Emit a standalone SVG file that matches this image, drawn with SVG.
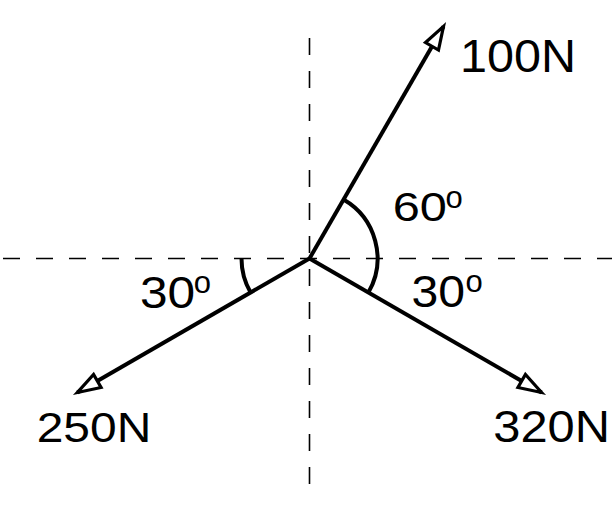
<svg xmlns="http://www.w3.org/2000/svg" width="615" height="505" viewBox="0 0 615 505">
<style>
.dash{stroke:#000;stroke-width:1.6;stroke-dasharray:17 16;fill:none}
.force{stroke:#000;stroke-width:4;fill:none;marker-end:url(#head)}
.arc{stroke:#000;stroke-width:4;fill:none}
.lbl{font-family:"Liberation Sans",Arial,Helvetica,sans-serif;fill:#000}
</style>
<defs>
<marker id="head" markerUnits="userSpaceOnUse" viewBox="0 0 30 20" refX="26" refY="10" markerWidth="30" markerHeight="20" orient="auto" overflow="visible">
<path d="M26,10 L3,2.5 L3,17.5 Z" fill="#fff" stroke="#000" stroke-width="3.2" stroke-linejoin="miter"/>
</marker>
</defs>
<g id="axes">
<line class="dash" x1="3" y1="258.5" x2="612" y2="258.5"/>
<line class="dash" x1="309.5" y1="38" x2="309.5" y2="500"/>
</g>
<g id="connectors">
<line id="f100" class="force" x1="309.5" y1="258.5" x2="443.5" y2="26.4"/>
<line id="f250" class="force" x1="309.5" y1="258.5" x2="77.4" y2="392.5"/>
<line id="f320" class="force" x1="309.5" y1="258.5" x2="541.6" y2="392.5"/>
</g>
<g id="angles">
<path class="arc" d="M343.5,199.6 A68,68 0 0 1 368.4,292.5"/>
<path class="arc" d="M241.5,258.5 A68,68 0 0 0 250.6,292.5"/>
</g>
<g id="label-100N"><text class="lbl" x="460" y="71.7" font-size="46" textLength="116" lengthAdjust="spacingAndGlyphs">100N</text></g>
<g id="label-250N"><text class="lbl" x="36.7" y="442.3" font-size="43" textLength="114.6" lengthAdjust="spacingAndGlyphs">250N</text></g>
<g id="label-320N"><text class="lbl" x="493.3" y="441.7" font-size="44" textLength="116.7" lengthAdjust="spacingAndGlyphs">320N</text></g>
<g id="label-60">
<text class="lbl" x="392.7" y="220.7" font-size="40.5" textLength="54.2" lengthAdjust="spacingAndGlyphs">60</text>
<text class="lbl" x="445.5" y="208.3" font-size="31">o</text>
</g>
<g id="label-30-left">
<text class="lbl" x="140" y="308.3" font-size="44" textLength="55.2" lengthAdjust="spacingAndGlyphs">30</text>
<text class="lbl" x="193.8" y="293.3" font-size="31">o</text>
</g>
<g id="label-30-right">
<text class="lbl" x="411.5" y="306.7" font-size="44" textLength="53.6" lengthAdjust="spacingAndGlyphs">30</text>
<text class="lbl" x="465.5" y="291.7" font-size="31">o</text>
</g>
</svg>
